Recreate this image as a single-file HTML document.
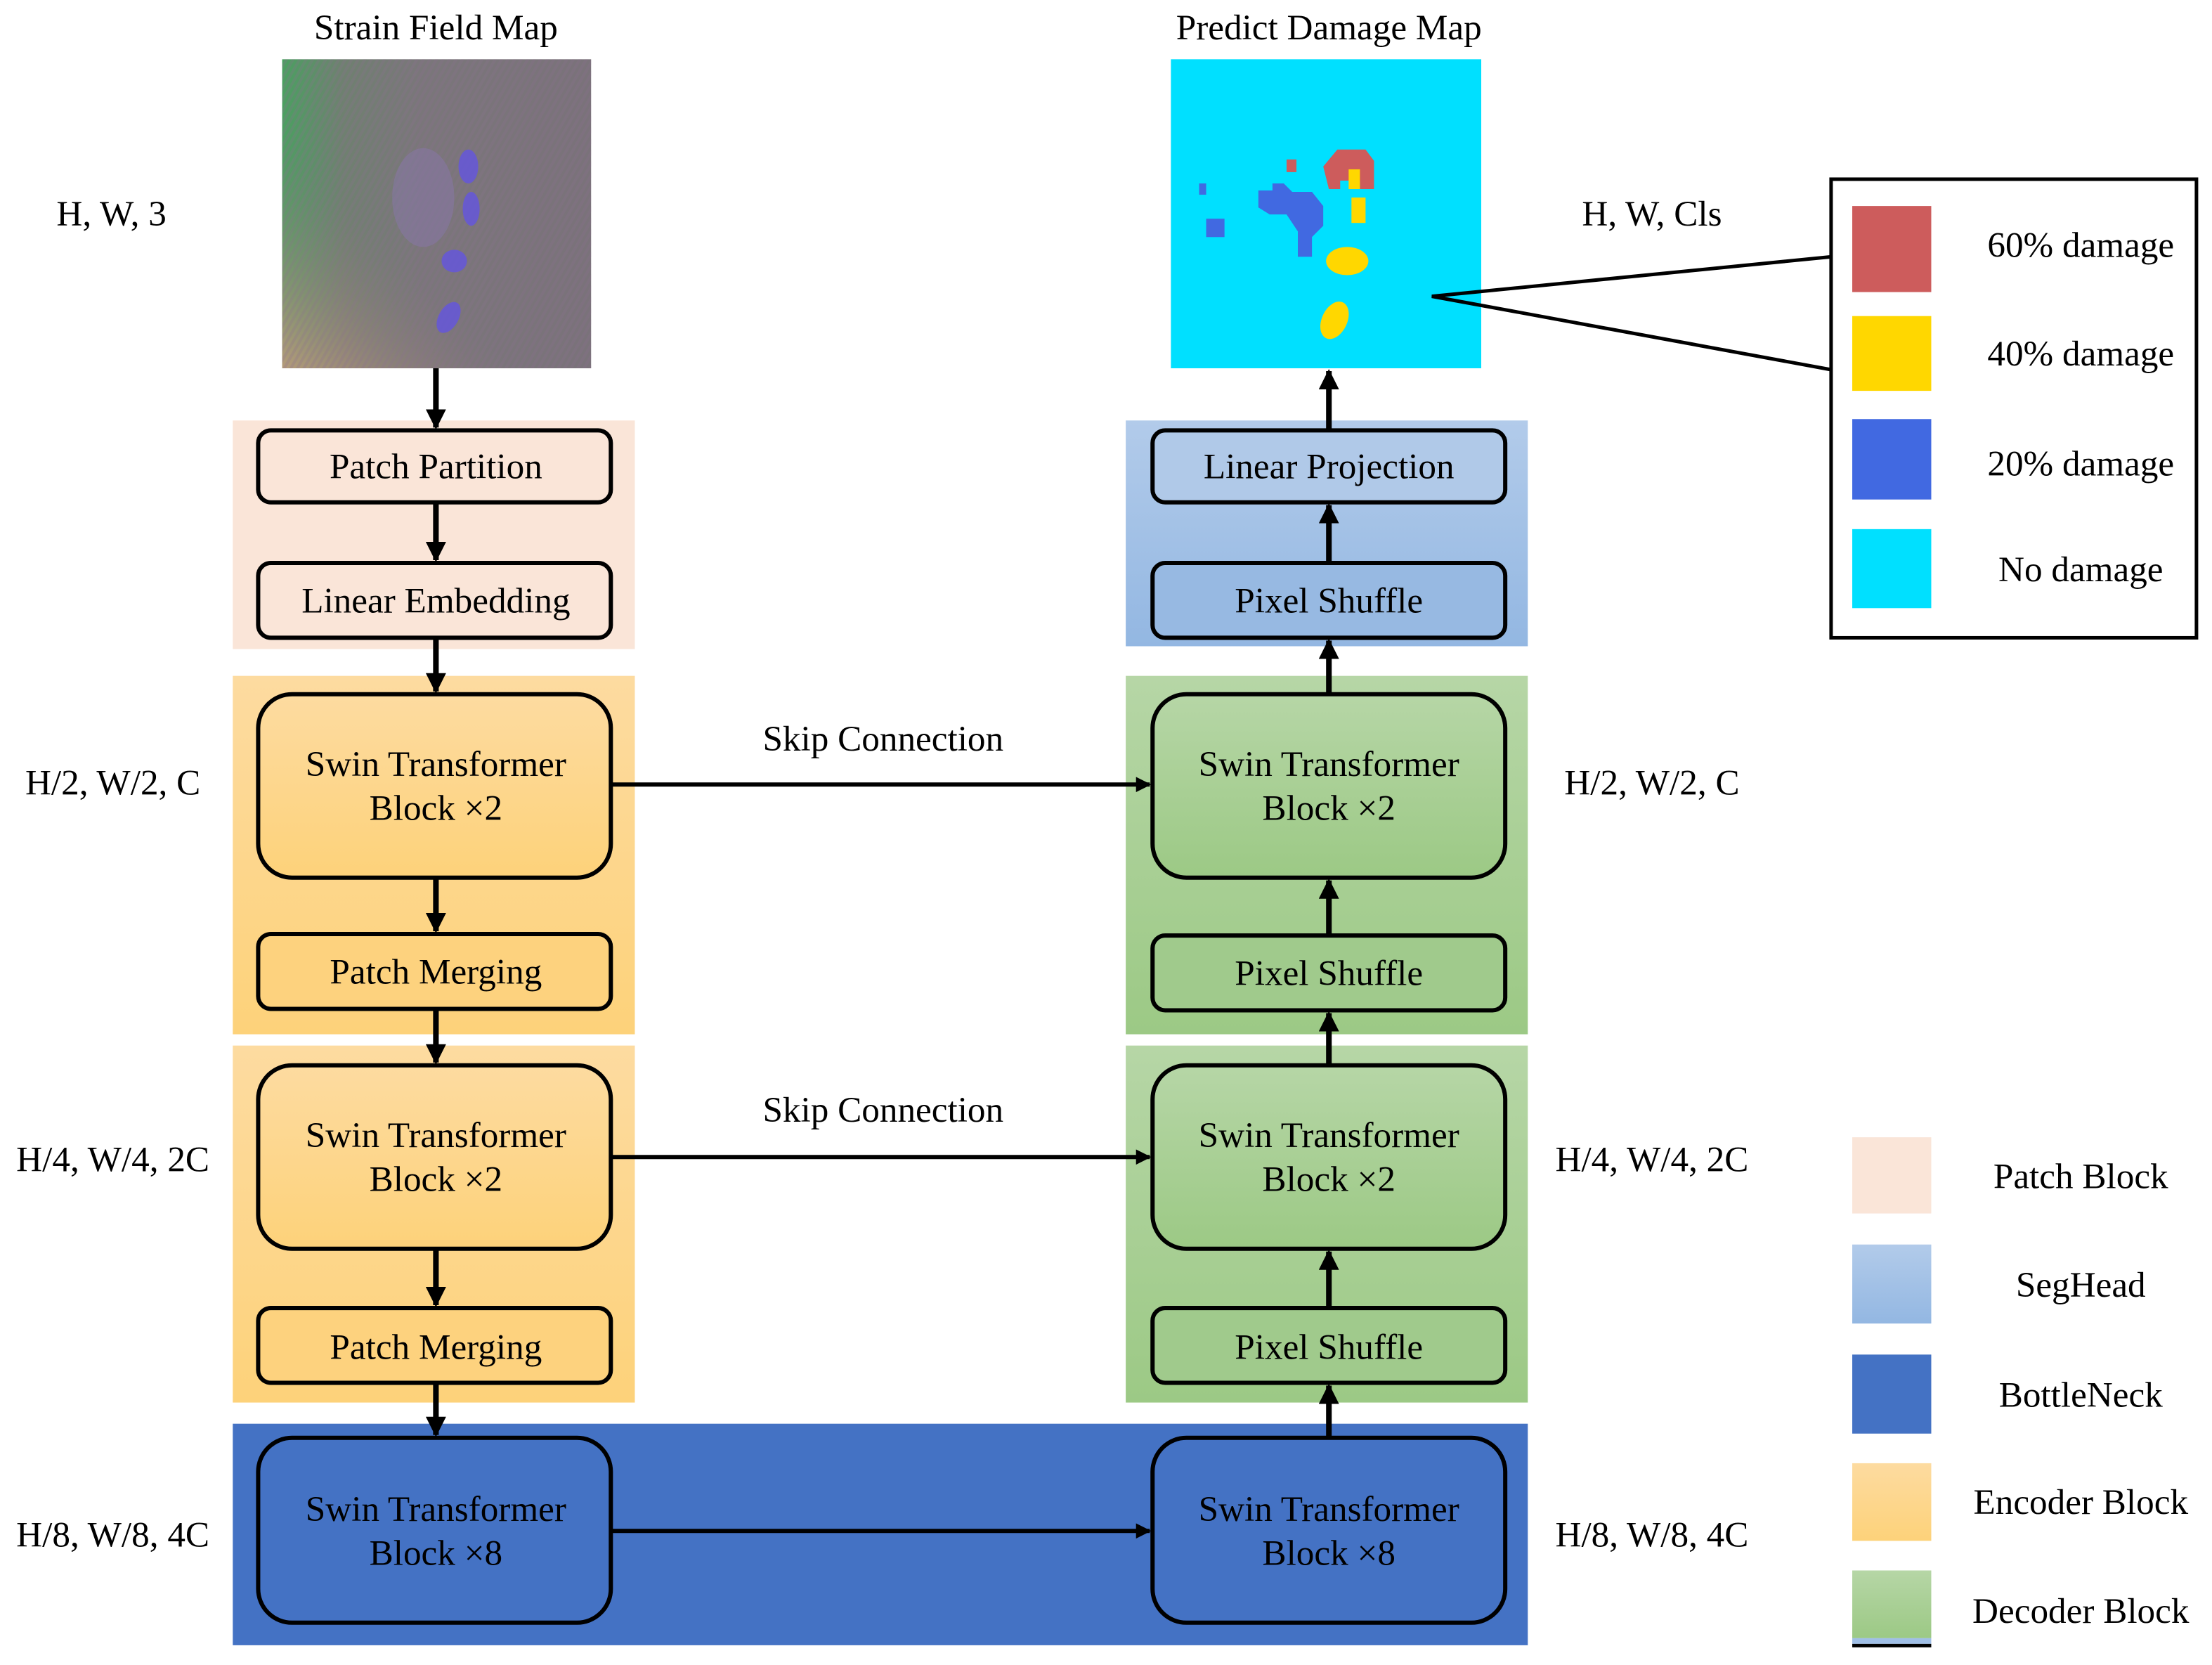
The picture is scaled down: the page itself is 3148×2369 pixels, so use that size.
<!DOCTYPE html>
<html><head><meta charset="utf-8"><style>
html,body{margin:0;padding:0;background:#fff}
svg{display:block}
text{font-family:"Liberation Serif",serif;font-size:25.5px;fill:#000}
</style></head><body>
<svg width="3148" height="2369" viewBox="0 0 1568 1180" xmlns="http://www.w3.org/2000/svg">
<defs>
<linearGradient id="enc" x1="0" y1="0" x2="0" y2="1"><stop offset="0" stop-color="#fddba0"/><stop offset="1" stop-color="#fdd27a"/></linearGradient>
<linearGradient id="dec" x1="0" y1="0" x2="0" y2="1"><stop offset="0" stop-color="#b6d6a6"/><stop offset="1" stop-color="#9cc985"/></linearGradient>
<linearGradient id="seg" x1="0" y1="0" x2="0" y2="1"><stop offset="0" stop-color="#b2cbea"/><stop offset="1" stop-color="#93b7e2"/></linearGradient>
<linearGradient id="strain" x1="0" y1="0" x2="1" y2="0"><stop offset="0" stop-color="#4aa060"/><stop offset="0.2" stop-color="#6f8070"/><stop offset="0.45" stop-color="#7a767a"/><stop offset="1" stop-color="#7a727a"/></linearGradient>
<linearGradient id="strain2" x1="0" y1="1" x2="0.4" y2="0.6"><stop offset="0" stop-color="#d09a80" stop-opacity="0.8"/><stop offset="1" stop-color="#777" stop-opacity="0"/></linearGradient>
<pattern id="diag" width="4" height="4" patternUnits="userSpaceOnUse" patternTransform="rotate(30)"><rect width="2" height="4" fill="#8a6f90" opacity="0.25"/></pattern>
<marker id="ah" viewBox="0 0 10 10" refX="9" refY="5" markerWidth="3.6" markerHeight="3.6" orient="auto"><path d="M0,0 L10,5 L0,10 z" fill="#000"/></marker>
</defs>

<text x="309" y="28" text-anchor="middle">Strain Field Map</text>
<text x="942" y="28" text-anchor="middle">Predict Damage Map</text>

<rect x="200" y="42" width="219" height="219" fill="url(#strain)"/>
<rect x="200" y="42" width="219" height="219" fill="url(#strain2)"/>
<rect x="200" y="42" width="219" height="219" fill="url(#diag)"/>
<g fill="#8a78b0" opacity="0.45"><ellipse cx="300" cy="140" rx="22" ry="35"/></g>
<g fill="#6455e0" opacity="0.8">
<ellipse cx="332" cy="118" rx="7" ry="12"/>
<ellipse cx="334" cy="148" rx="6" ry="12"/>
<ellipse cx="322" cy="185" rx="9" ry="8"/>
<ellipse cx="318" cy="225" rx="7" ry="12" transform="rotate(30 318 225)"/>
</g>

<rect x="830" y="42" width="220" height="219" fill="#00e0ff"/>
<g fill="#cd5c5c"><path d="M938,118 l10,-12 h20 l6,8 v20 h-10 v-6 h-14 v6 h-8 z"/><rect x="912" y="113" width="7" height="9"/></g>
<g fill="#ffd700"><rect x="956" y="120" width="8" height="14"/><rect x="958" y="140" width="10" height="18"/><ellipse cx="955" cy="185" rx="15" ry="10"/><ellipse cx="946" cy="227" rx="9" ry="14" transform="rotate(25 946 227)"/></g>
<g fill="#4169e1"><path d="M892,135 h10 v-5 h8 l6,6 h14 l8,10 v14 l-8,8 v14 h-10 v-18 l-8,-12 h-12 l-8,-5 z"/><rect x="855" y="155" width="13" height="13"/><rect x="850" y="130" width="5" height="8"/></g>

<text x="79" y="160" text-anchor="middle">H, W, 3</text>
<text x="80" y="563" text-anchor="middle">H/2, W/2, C</text>
<text x="80" y="830" text-anchor="middle">H/4, W/4, 2C</text>
<text x="80" y="1096" text-anchor="middle">H/8, W/8, 4C</text>
<text x="1171" y="160" text-anchor="middle">H, W, Cls</text>
<text x="1171" y="563" text-anchor="middle">H/2, W/2, C</text>
<text x="1171" y="830" text-anchor="middle">H/4, W/4, 2C</text>
<text x="1171" y="1096" text-anchor="middle">H/8, W/8, 4C</text>

<rect x="165" y="298" width="285" height="162" fill="#fae5d8"/>
<rect x="165" y="479" width="285" height="254" fill="url(#enc)"/>
<rect x="165" y="741" width="285" height="253" fill="url(#enc)"/>
<rect x="165" y="1009" width="918" height="157" fill="#4472c4"/>
<rect x="798" y="298" width="285" height="160" fill="url(#seg)"/>
<rect x="798" y="479" width="285" height="254" fill="url(#dec)"/>
<rect x="798" y="741" width="285" height="253" fill="url(#dec)"/>

<g stroke="#000" stroke-width="3">
<rect x="183" y="305" width="250" height="51" rx="9" fill="#fae5d8"/>
<rect x="183" y="399" width="250" height="53" rx="9" fill="#fae5d8"/>
<rect x="183" y="492" width="250" height="130" rx="24" fill="url(#enc)"/>
<rect x="183" y="662" width="250" height="53" rx="9" fill="#fdd27e"/>
<rect x="183" y="755" width="250" height="130" rx="24" fill="url(#enc)"/>
<rect x="183" y="927" width="250" height="53" rx="9" fill="#fdd27e"/>
<rect x="183" y="1019" width="250" height="131" rx="24" fill="#4472c4"/>
<rect x="817" y="1019" width="250" height="131" rx="24" fill="#4472c4"/>
<rect x="817" y="305" width="250" height="51" rx="9" fill="#b0c9e8"/>
<rect x="817" y="399" width="250" height="53" rx="9" fill="#97b9e2"/>
<rect x="817" y="492" width="250" height="130" rx="24" fill="url(#dec)"/>
<rect x="817" y="663" width="250" height="53" rx="9" fill="#a0ca8c"/>
<rect x="817" y="755" width="250" height="130" rx="24" fill="url(#dec)"/>
<rect x="817" y="927" width="250" height="53" rx="9" fill="#a0ca8c"/>
</g>

<g text-anchor="middle">
<text x="309" y="339">Patch Partition</text>
<text x="309" y="434">Linear Embedding</text>
<text x="309" y="550">Swin Transformer</text><text x="309" y="581">Block ×2</text>
<text x="309" y="697">Patch Merging</text>
<text x="309" y="813">Swin Transformer</text><text x="309" y="844">Block ×2</text>
<text x="309" y="963">Patch Merging</text>
<text x="309" y="1078">Swin Transformer</text><text x="309" y="1109">Block ×8</text>
<text x="942" y="1078">Swin Transformer</text><text x="942" y="1109">Block ×8</text>
<text x="942" y="339">Linear Projection</text>
<text x="942" y="434">Pixel Shuffle</text>
<text x="942" y="550">Swin Transformer</text><text x="942" y="581">Block ×2</text>
<text x="942" y="698">Pixel Shuffle</text>
<text x="942" y="813">Swin Transformer</text><text x="942" y="844">Block ×2</text>
<text x="942" y="963">Pixel Shuffle</text>
<text x="626" y="532">Skip Connection</text>
<text x="626" y="795">Skip Connection</text>
</g>

<g stroke="#000" stroke-width="4" marker-end="url(#ah)">
<line x1="309" y1="261" x2="309" y2="303"/>
<line x1="309" y1="356" x2="309" y2="397"/>
<line x1="309" y1="452" x2="309" y2="490"/>
<line x1="309" y1="622" x2="309" y2="660"/>
<line x1="309" y1="715" x2="309" y2="753"/>
<line x1="309" y1="885" x2="309" y2="925"/>
<line x1="309" y1="980" x2="309" y2="1017"/>
<line x1="942" y1="1019" x2="942" y2="982"/>
<line x1="942" y1="927" x2="942" y2="887"/>
<line x1="942" y1="755" x2="942" y2="718"/>
<line x1="942" y1="663" x2="942" y2="624"/>
<line x1="942" y1="492" x2="942" y2="454"/>
<line x1="942" y1="399" x2="942" y2="358"/>
<line x1="942" y1="305" x2="942" y2="263"/>
</g>
<g stroke="#000" stroke-width="3" marker-end="url(#ah)">
<line x1="433" y1="556" x2="815" y2="556"/>
<line x1="433" y1="820" x2="815" y2="820"/>
<line x1="433" y1="1085" x2="815" y2="1085"/>
</g>

<rect x="1298" y="127" width="259" height="325" fill="#fff" stroke="#000" stroke-width="2.5"/>
<polyline points="1298,182 1015,210 1298,262" fill="none" stroke="#000" stroke-width="2.5"/>
<rect x="1313" y="146" width="56" height="61" fill="#cd5c5c"/>
<rect x="1313" y="224" width="56" height="53" fill="#ffd700"/>
<rect x="1313" y="297" width="56" height="57" fill="#4169e1"/>
<rect x="1313" y="375" width="56" height="56" fill="#00e0ff"/>
<g text-anchor="middle">
<text x="1475" y="182">60% damage</text>
<text x="1475" y="259">40% damage</text>
<text x="1475" y="337">20% damage</text>
<text x="1475" y="412">No damage</text>
</g>

<rect x="1313" y="806" width="56" height="54" fill="#fae5d8"/>
<rect x="1313" y="882" width="56" height="56" fill="url(#seg)"/>
<rect x="1313" y="960" width="56" height="56" fill="#4472c4"/>
<rect x="1313" y="1037" width="56" height="55" fill="url(#enc)"/>
<rect x="1313" y="1113" width="56" height="48" fill="url(#dec)"/>
<rect x="1313" y="1161" width="56" height="4" fill="#a0bfe6"/>
<rect x="1313" y="1165" width="56" height="2.5" fill="#000"/>
<g text-anchor="middle">
<text x="1475" y="842">Patch Block</text>
<text x="1475" y="919">SegHead</text>
<text x="1475" y="997">BottleNeck</text>
<text x="1475" y="1073">Encoder Block</text>
<text x="1475" y="1150">Decoder Block</text>
</g>
</svg>
</body></html>
